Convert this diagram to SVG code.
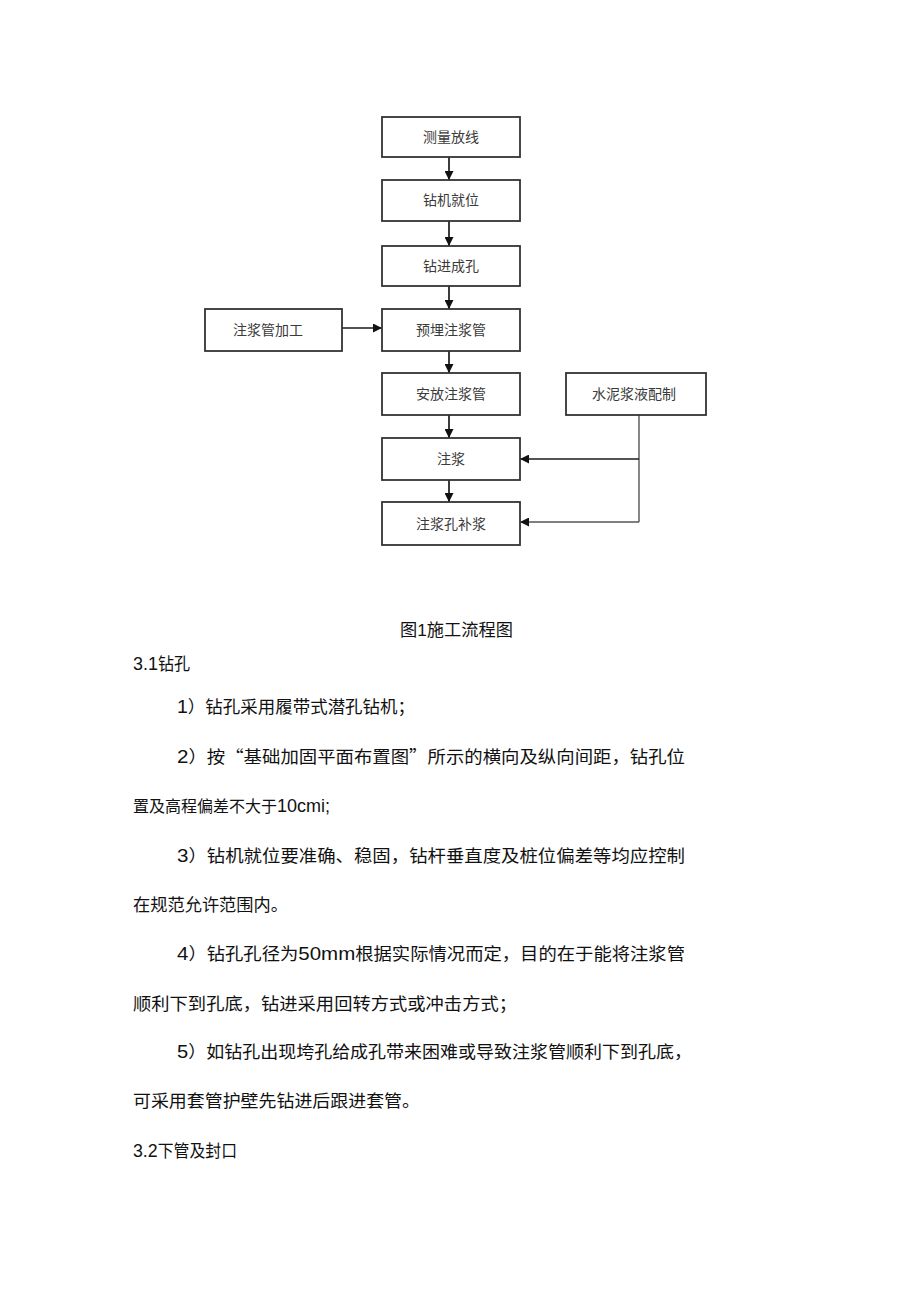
<svg xmlns="http://www.w3.org/2000/svg" width="920" height="1303" viewBox="0 0 920 1303">
<style>
.box{fill:#fff;stroke:#333;stroke-width:1.8}
.bt{font-family:"Noto Sans CJK SC",sans-serif;font-size:14px;fill:#3a3a3a;text-anchor:middle}
.ln{stroke:#1a1a1a;stroke-width:1.7;fill:none}
.ln2{stroke:#555;stroke-width:1.4;fill:none}
.tx{font-family:"Liberation Sans","Noto Sans CJK SC",sans-serif;font-size:17px;fill:#111}
.d{font-size:19px}
.q{font-family:"Noto Sans CJK SC",sans-serif}
</style>
<defs>
<marker id="ah" viewBox="0 0 10 10" refX="10" refY="5" markerWidth="9" markerHeight="9" markerUnits="userSpaceOnUse" orient="auto">
<path d="M0,0 L10,5 L0,10 z" fill="#111"/>
</marker>
</defs>
<rect width="920" height="1303" fill="#fff"/>
<g id="connectors">
<line class="ln" x1="449" y1="157" x2="449" y2="180" marker-end="url(#ah)"/>
<line class="ln" x1="449" y1="221" x2="449" y2="246" marker-end="url(#ah)"/>
<line class="ln" x1="449" y1="286" x2="449" y2="309" marker-end="url(#ah)"/>
<line class="ln" x1="342" y1="328" x2="382" y2="328" marker-end="url(#ah)"/>
<line class="ln" x1="449" y1="351" x2="449" y2="373" marker-end="url(#ah)"/>
<line class="ln" x1="449" y1="415" x2="449" y2="438" marker-end="url(#ah)"/>
<line class="ln" x1="449" y1="480" x2="449" y2="502" marker-end="url(#ah)"/>
<polyline class="ln2" points="639,415 639,522"/>
<line class="ln" x1="639" y1="459" x2="520" y2="459" marker-end="url(#ah)"/>
<line class="ln2" x1="639" y1="522" x2="520" y2="522" marker-end="url(#ah)"/>
</g>
<g id="n1"><rect class="box" x="382" y="117" width="138" height="40"/><text class="bt" x="451" y="142">测量放线</text></g>
<g id="n2"><rect class="box" x="382" y="180" width="138" height="41"/><text class="bt" x="451" y="205">钻机就位</text></g>
<g id="n3"><rect class="box" x="382" y="246" width="138" height="40"/><text class="bt" x="451" y="271">钻进成孔</text></g>
<g id="n4"><rect class="box" x="382" y="309" width="138" height="42"/><text class="bt" x="451" y="335">预埋注浆管</text></g>
<g id="n0"><rect class="box" x="205" y="309" width="137" height="42"/><text class="bt" x="268" y="335">注浆管加工</text></g>
<g id="n5"><rect class="box" x="382" y="373" width="138" height="42"/><text class="bt" x="451" y="399">安放注浆管</text></g>
<g id="n8"><rect class="box" x="566" y="373" width="140" height="42"/><text class="bt" x="634" y="399">水泥浆液配制</text></g>
<g id="n6"><rect class="box" x="382" y="438" width="138" height="42"/><text class="bt" x="451" y="464">注浆</text></g>
<g id="n7"><rect class="box" x="382" y="502" width="138" height="43"/><text class="bt" x="451" y="529">注浆孔补浆</text></g>
<g id="body">
<text class="tx" x="400" y="636" textLength="113" lengthAdjust="spacingAndGlyphs">图1施工流程图</text>
<text class="tx" x="133" y="670" textLength="57" lengthAdjust="spacingAndGlyphs"><tspan class="d">3.1</tspan>钻孔</text>
<text class="tx" x="177" y="713" textLength="238" lengthAdjust="spacingAndGlyphs"><tspan class="d">1</tspan>）钻孔采用履带式潜孔钻机；</text>
<text class="tx" x="177" y="763" textLength="508" lengthAdjust="spacingAndGlyphs"><tspan class="d">2</tspan>）按<tspan class="q">“</tspan>基础加固平面布置图<tspan class="q">”</tspan>所示的横向及纵向间距，钻孔位</text>
<text class="tx" x="133" y="812" style="font-size:16px">置及高程偏差不大于<tspan style="font-size:18px">10cmi;</tspan></text>
<text class="tx" x="177" y="862" textLength="508" lengthAdjust="spacingAndGlyphs"><tspan class="d">3</tspan>）钻机就位要准确、稳固，钻杆垂直度及桩位偏差等均应控制</text>
<text class="tx" x="133" y="911" textLength="155" lengthAdjust="spacingAndGlyphs">在规范允许范围内。</text>
<text class="tx" x="177" y="960" textLength="508" lengthAdjust="spacingAndGlyphs"><tspan class="d">4</tspan>）钻孔孔径为<tspan class="d">50mm</tspan>根据实际情况而定，目的在于能将注浆管</text>
<text class="tx" x="133" y="1010" textLength="384" lengthAdjust="spacingAndGlyphs">顺利下到孔底，钻进采用回转方式或冲击方式；</text>
<text class="tx" x="177" y="1058" textLength="515" lengthAdjust="spacingAndGlyphs"><tspan class="d">5</tspan>）如钻孔出现垮孔给成孔带来困难或导致注浆管顺利下到孔底，</text>
<text class="tx" x="133" y="1107" textLength="287" lengthAdjust="spacingAndGlyphs">可采用套管护壁先钻进后跟进套管。</text>
<text class="tx" x="133" y="1157" textLength="104" lengthAdjust="spacingAndGlyphs"><tspan class="d">3.2</tspan>下管及封口</text>
</g>
</svg>
